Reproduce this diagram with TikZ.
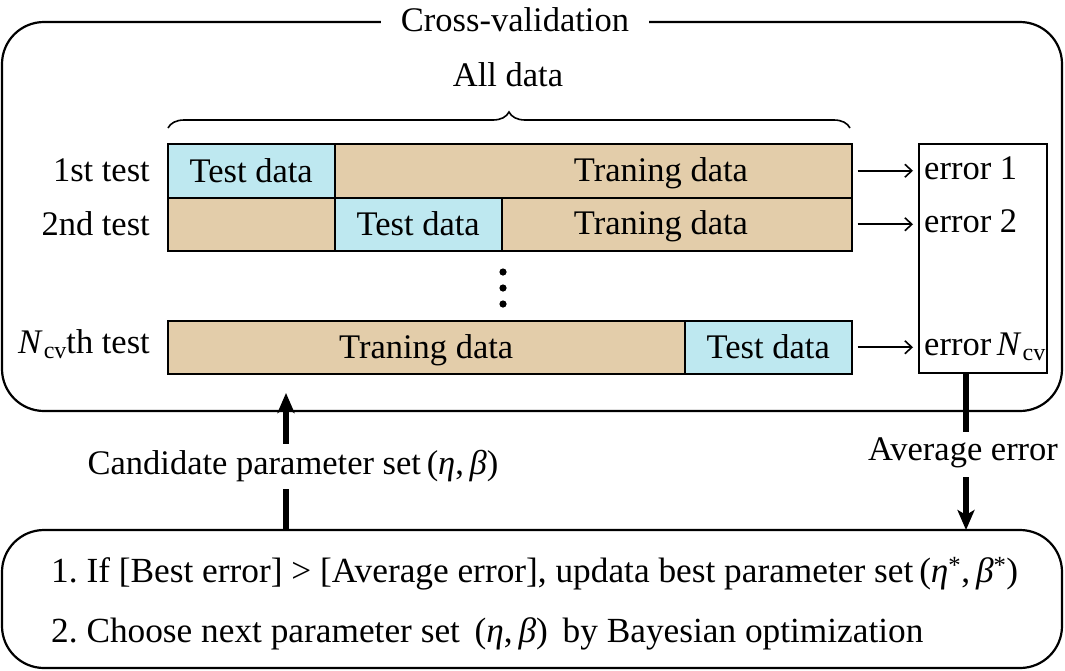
\documentclass[tikz,border=0pt]{standalone}
\usepackage{fontspec}
\setmainfont{Liberation Serif}
\usetikzlibrary{arrows.meta,decorations.pathreplacing}
\definecolor{testc}{RGB}{190,232,240}
\definecolor{trainc}{RGB}{227,205,170}
\newcommand{\Ncv}{\textit{N}\kern1pt\raisebox{-0.3ex}{\fontsize{24}{24}\selectfont cv}}
\frenchspacing
\begin{document}
\begin{tikzpicture}[x=1pt,y=-1pt,
  every node/.style={font=\fontsize{34.5}{40}\selectfont\frenchspacing, inner sep=0pt},
  seg/.style={draw=black, line width=1.5pt, anchor=north west, text height=23pt, text depth=0pt},
  testseg/.style={seg, fill=testc},
  trainseg/.style={seg, fill=trainc},
  segtext/.style={text height=23pt, text depth=0pt},
  frame/.style={draw=black, line width=2.2pt, rounded corners=42pt},
  smallarr/.style={line width=1.6pt, -{Straight Barb[length=7pt,width=13pt,line width=1.6pt]}},
  thickline/.style={line width=6pt},
  thickarr/.style={line width=6pt, -{Stealth[length=20pt,width=17pt,inset=5pt]}},
  rowlab/.style={anchor=east, text height=23pt, text depth=0pt},
  errlab/.style={anchor=west, text height=23pt, text depth=0pt},
  boxline/.style={anchor=west, font=\fontsize{35.3}{40}\selectfont\frenchspacing}]
\useasboundingbox (0,0) rectangle (1065,670);
% outer cross-validation frame
\draw[frame] (2,22) rectangle (1062,411);
\node[fill=white, inner xsep=20pt, inner ysep=4pt] (cv) at (515,20) {Cross-validation};
% all data brace
\node (all) at (508,75) {All data};
\draw[line width=1.6pt, decoration={brace, amplitude=16pt}, decorate] (168,128) -- (850,128);
% rows
\node[testseg, minimum width=167pt, minimum height=54pt] (t1) at (167,143) {Test data};
\node[trainseg, minimum width=517pt, minimum height=54pt] (r1) at (334,143) {};
\node[segtext] (r1t) at (661,170) {Traning data};
\node[trainseg, minimum width=167pt, minimum height=53pt] (a2) at (167,197) {};
\node[testseg, minimum width=167pt, minimum height=53pt] (t2) at (334,197) {Test data};
\node[trainseg, minimum width=350pt, minimum height=53pt] (r2) at (501,197) {};
\node[segtext] (r2t) at (661,223) {Traning data};
\node[trainseg, minimum width=517pt, minimum height=53pt] (r3) at (167,320) {Traning data};
\node[testseg, minimum width=167pt, minimum height=53pt] (t3) at (684,320) {Test data};
% row labels
\node[rowlab] (l1) at (150,170) {1st test};
\node[rowlab] (l2) at (150,224) {2nd test};
\node[rowlab] (l3) at (150,342) {\Ncv th test};
% dots
\fill (503,272) circle (3.6pt);
\fill (503,288) circle (3.6pt);
\fill (503,304) circle (3.6pt);
% error box
\node[draw=black, line width=1.5pt, anchor=north west, minimum width=128pt, minimum height=229pt] (ebox) at (918,143) {};
\node[errlab] (e1) at (924,168) {error 1};
\node[errlab] (e2) at (924,221) {error 2};
\node[errlab] (e3) at (924,344) {error\,\Ncv};
% small arrows
\draw[smallarr, shorten <=5pt, shorten >=5pt] (r1.east) -- (r1.east -| ebox.west);
\draw[smallarr, shorten <=5pt, shorten >=5pt] (r2.east) -- (r2.east -| ebox.west);
\draw[smallarr, shorten <=5pt, shorten >=5pt] (t3.east) -- (t3.east -| ebox.west);
% bottom frame
\draw[frame] (2,530) rectangle (1062,668);
\coordinate (bbtop) at (500,530);
\node[boxline] (b1) at (51,574) {1. If [Best error] > [Average error], updata best parameter set\,(\textit{η}\textsuperscript{*},\,\textit{β}\textsuperscript{*})};
\node[boxline] (b2) at (51,634) {2. Choose next parameter set\ \,(\textit{η},\,\textit{β})\ \,by Bayesian optimization};
% average error arrow
\coordinate (dn) at (966,0);
\node (avg) at (963,453) {Average error};
\draw[thickline] (ebox.south -| dn) -- ([yshift=6pt]avg.north -| dn);
\draw[thickarr] ([yshift=-9pt]avg.south -| dn) -- (bbtop -| dn);
% candidate arrow
\coordinate (upt) at (286,393);
\node (cand) at (293,466) {Candidate parameter set\,(\textit{η},\,\textit{β})};
\draw[thickline] (bbtop -| upt) -- ([yshift=-7pt]cand.south -| upt);
\draw[thickarr] ([yshift=6pt]cand.north -| upt) -- (upt);
\end{tikzpicture}
\end{document}
